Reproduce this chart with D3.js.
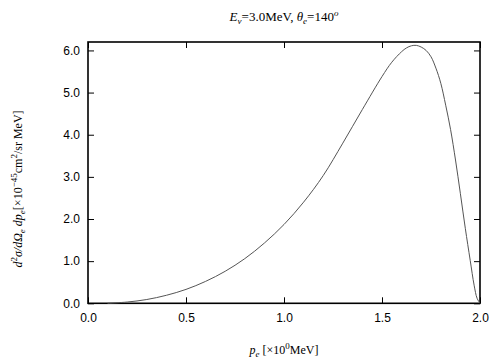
<!DOCTYPE html>
<html><head><meta charset="utf-8">
<script src="https://cdn.jsdelivr.net/npm/d3@7"></script>
<style>body{margin:0;background:#fff}svg{display:block}</style>
</head><body>
<script>
const pValues = [0.10, 0.20, 0.30, 0.40, 0.50, 0.60, 0.70, 0.80, 0.90, 1.00, 1.10, 1.20, 1.30, 1.40, 1.50, 1.55, 1.60, 1.625, 1.65, 1.675, 1.70, 1.725, 1.75, 1.775, 1.80, 1.825, 1.85, 1.875, 1.90, 1.925, 1.95, 1.97, 1.985, 2.0];
const sigmaValues = [0.00, 0.03, 0.09, 0.19, 0.33, 0.52, 0.76, 1.06, 1.43, 1.87, 2.40, 3.03, 3.80, 4.60, 5.38, 5.72, 5.97, 6.06, 6.11, 6.12, 6.08, 6.00, 5.85, 5.58, 5.22, 4.70, 4.12, 3.40, 2.60, 1.78, 1.02, 0.43, 0.12, 0.0];
const xTicks = [0, 0.5, 1.0, 1.5, 2.0];
const yTicks = [0, 1, 2, 3, 4, 5, 6];

const W = 504, H = 360;
const m = {left: 88, right: 24, top: 42, bottom: 56};
const svg = d3.select("body").append("svg").attr("width", W).attr("height", H);
const x = d3.scaleLinear().domain([0, 2]).range([m.left, W - m.right]);
const y = d3.scaleLinear().domain([0, 6.2]).range([H - m.bottom - 0.7, m.top]);

const tl = 6;
const g = svg.append("g");
const xb = g.append("g").attr("transform", `translate(0,${y(0)})`)
  .call(d3.axisBottom(x).tickValues(xTicks).tickFormat(d3.format(".1f")).tickSizeInner(-tl).tickSizeOuter(0).tickPadding(10));
const yl = g.append("g").attr("transform", `translate(${x(0)},0)`)
  .call(d3.axisLeft(y).tickValues(yTicks).tickFormat(d3.format(".1f")).tickSizeInner(-tl).tickSizeOuter(0).tickPadding(8));
const xt = g.append("g").attr("transform", `translate(0,${y(6.2)})`)
  .call(d3.axisTop(x).tickValues(xTicks).tickFormat("").tickSizeInner(-tl).tickSizeOuter(0));
const yr = g.append("g").attr("transform", `translate(${x(2)},0)`)
  .call(d3.axisRight(y).tickValues(yTicks).tickFormat("").tickSizeInner(-tl).tickSizeOuter(0));
[xb, yl, xt, yr].forEach(a => {
  a.select(".domain").remove();
  a.selectAll(".tick line").attr("stroke", "#000").attr("stroke-width", 1);
  a.selectAll("text").attr("font-family", "Liberation Sans, Arial, sans-serif").attr("font-size", 12).attr("fill", "#000");
});
svg.append("rect").attr("x", x(0)).attr("y", y(6.2)).attr("width", x(2) - x(0)).attr("height", y(0) - y(6.2))
  .attr("fill", "none").attr("stroke", "#000").attr("stroke-width", 1.6);

const pts = pValues.map((p, i) => [p, sigmaValues[i]]);
svg.append("path").datum(pts)
  .attr("d", d3.line().x(d => x(d[0])).y(d => y(d[1])).curve(d3.curveCatmullRom.alpha(0.5)))
  .attr("fill", "none").attr("stroke", "#555").attr("stroke-width", 1);

const serif = "Liberation Serif, Times New Roman, serif";
const t = svg.append("text").attr("x", (x(0) + x(2)) / 2).attr("y", 21).attr("text-anchor", "middle")
  .attr("font-family", serif).attr("font-size", 13);
t.append("tspan").attr("font-style", "italic").text("E");
t.append("tspan").attr("font-size", 9).attr("dy", 3).attr("font-style", "italic").text("ν");
t.append("tspan").attr("dy", -3).text("=3.0MeV,  ");
t.append("tspan").attr("font-style", "italic").text("θ");
t.append("tspan").attr("font-size", 9).attr("dy", 3).attr("font-style", "italic").text("e");
t.append("tspan").attr("dy", -3).text("=140");
t.append("tspan").attr("font-size", 9).attr("dy", -5).attr("font-style", "italic").text("o");

const xlab = svg.append("text").attr("x", (x(0) + x(2)) / 2).attr("y", 354).attr("text-anchor", "middle")
  .attr("font-family", serif).attr("font-size", 12);
xlab.append("tspan").attr("font-style", "italic").text("p");
xlab.append("tspan").attr("font-size", 9).attr("dy", 3).attr("font-style", "italic").text("e");
xlab.append("tspan").attr("dy", -3).text(" [×10");
xlab.append("tspan").attr("font-size", 9).attr("dy", -5).text("0");
xlab.append("tspan").attr("dy", 5).text("MeV]");

const ylab = svg.append("text").attr("transform", `translate(22,189) rotate(-90)`).attr("text-anchor", "middle")
  .attr("font-family", serif).attr("font-size", 12);
ylab.append("tspan").attr("font-style", "italic").text("d");
ylab.append("tspan").attr("font-size", 9).attr("dy", -5).text("2");
ylab.append("tspan").attr("dy", 5).attr("font-style", "italic").text("σ/dΩ");
ylab.append("tspan").attr("font-size", 9).attr("dy", 3).attr("font-style", "italic").text("e");
ylab.append("tspan").attr("dy", -3).attr("font-style", "italic").text(" dp");
ylab.append("tspan").attr("font-size", 9).attr("dy", 3).attr("font-style", "italic").text("e");
ylab.append("tspan").attr("dy", -3).text("[×10");
ylab.append("tspan").attr("font-size", 9).attr("dy", -5).text("−45");
ylab.append("tspan").attr("dy", 5).text("cm");
ylab.append("tspan").attr("font-size", 9).attr("dy", -5).text("2");
ylab.append("tspan").attr("dy", 5).text("/sr MeV]");
</script>
</body></html>
